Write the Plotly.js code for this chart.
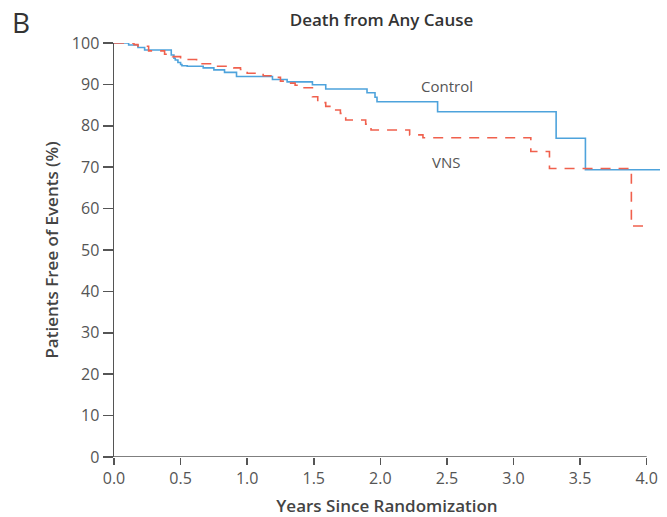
<!DOCTYPE html>
<html>
<head>
<meta charset="utf-8">
<script src="https://cdn.plot.ly/plotly-3.0.1.min.js"></script>
<style>html,body{margin:0;padding:0;background:#fff}#chart{width:667px;height:517px}</style>
</head>
<body>
<div id="chart"></div>
<script>
// Kaplan-Meier step data (years, % free of events)
const controlYears = [0, 0.11, 0.18, 0.23, 0.43, 0.45, 0.46, 0.48, 0.50, 0.51, 0.55, 0.67, 0.75, 0.83, 0.92, 1.19, 1.30, 1.49, 1.59, 1.90, 1.96, 1.975, 2.43, 3.32, 3.54, 4.1];
const controlSurv  = [100, 99.5, 98.9, 98.3, 97.1, 96.3, 95.9, 95.3, 94.8, 94.5, 94.4, 94.0, 93.5, 92.9, 91.9, 91.2, 90.6, 89.9, 88.9, 88.0, 86.9, 85.8, 83.4, 77.0, 69.4, 69.4];
const vnsYears = [0, 0.15, 0.18, 0.26, 0.38, 0.44, 0.50, 0.62, 0.74, 0.90, 0.95, 1.00, 1.12, 1.18, 1.25, 1.30, 1.36, 1.42, 1.49, 1.53, 1.59, 1.65, 1.70, 1.74, 1.89, 1.93, 2.22, 2.32, 3.13, 3.27, 3.885, 3.98];
const vnsSurv  = [100, 99.6, 99.2, 98.1, 97.3, 96.7, 96.0, 95.0, 94.4, 94.0, 93.6, 92.7, 92.1, 91.7, 90.8, 90.3, 89.8, 89.2, 87.0, 85.6, 84.7, 83.8, 83.0, 81.4, 80.4, 79.0, 77.8, 77.1, 73.8, 69.7, 55.8, 55.8];
const xTicks = [0, 0.5, 1, 1.5, 2, 2.5, 3, 3.5, 4];
const xTickText = ["0.0", "0.5", "1.0", "1.5", "2.0", "2.5", "3.0", "3.5", "4.0"];
const yTicks = [0, 10, 20, 30, 40, 50, 60, 70, 80, 90, 100];
const seriesNames = ["Control", "VNS"];
const labelPos = {Control: [2.5, 89.6], VNS: [2.49, 71.3]};

const FONT = "Open Sans, Noto Sans, sans-serif";
const traces = [
  {x: controlYears, y: controlSurv, name: seriesNames[0], mode: "lines",
   line: {shape: "hv", color: "#4EA3DC", width: 1.6}},
  {x: vnsYears, y: vnsSurv, name: seriesNames[1], mode: "lines",
   line: {shape: "hv", color: "#F0604D", width: 1.6, dash: "10px,8px"}}
];

const layout = {
  width: 667, height: 517,
  margin: {l: 114, r: 7, t: 43, b: 60},
  paper_bgcolor: "#fff", plot_bgcolor: "#fff",
  showlegend: false,
  font: {family: FONT, color: "#444", size: 15},
  title: {text: "Death from Any Cause", font: {family: FONT, size: 17, color: "#333", weight: 600},
          xref: "container", yref: "container", x: 0.572, y: 0.961, xanchor: "center", yanchor: "middle"},
  xaxis: {range: [0, 4.1], tickvals: xTicks, ticktext: xTickText, showgrid: false, zeroline: false,
          showline: false, ticks: "outside", ticklen: 7, tickwidth: 1.5, tickcolor: "#555",
          tickfont: {family: FONT, size: 16, color: "#555"},
          title: {text: "Years Since Randomization", font: {family: FONT, size: 17, color: "#444", weight: 600}, standoff: 19}},
  yaxis: {range: [0, 100], tickvals: yTicks, showgrid: false, zeroline: false,
          showline: true, linecolor: "#555", linewidth: 1.5,
          ticks: "outside", ticklen: 10, tickwidth: 1.5, tickcolor: "#555",
          tickfont: {family: FONT, size: 16, color: "#555"},
          title: {text: "Patients Free of Events (%)", font: {family: FONT, size: 17, color: "#444", weight: 600}, standoff: 9}},
  shapes: [{type: "line", xref: "x", yref: "y", x0: 0, x1: 4, y0: 0, y1: 0, line: {color: "#555", width: 1.5}}],
  annotations: [
    {text: "B", xref: "paper", yref: "paper", x: -0.17, y: 1.0507, xanchor: "center", yanchor: "middle",
     showarrow: false, font: {family: FONT, size: 28, color: "#333", weight: 500}},
    ...seriesNames.map(n => ({text: n, x: labelPos[n][0], y: labelPos[n][1], xref: "x", yref: "y",
      showarrow: false, xanchor: "center", yanchor: "middle", font: {family: FONT, size: 15, color: "#555"}}))
  ]
};

Plotly.newPlot("chart", traces, layout, {displayModeBar: false, staticPlot: true});
</script>
</body>
</html>
